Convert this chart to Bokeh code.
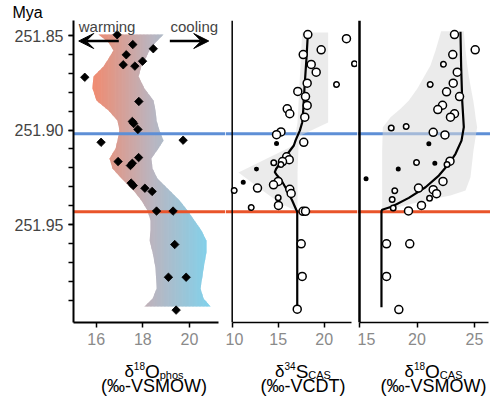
import numpy as np
from bokeh.plotting import figure
from bokeh.layouts import row, column
from bokeh.models import (Range1d, FixedTicker, NumeralTickFormatter, Span,
                          Label, Arrow, VeeHead, Title)
from bokeh.embed import file_html
from bokeh.resources import INLINE

# ---------------- data ----------------
# Panel 1: d18O phosphate (diamonds) and its envelope
phos_age = [251.8496, 251.8548, 251.8570, 251.8602, 251.8636, 251.8655, 251.8662,
            251.8721, 251.8849, 251.8955, 251.8966, 251.8997, 251.9065, 251.9054,
            251.9146, 251.9167, 251.9176, 251.9188, 251.9281, 251.9294, 251.9308,
            251.9325, 251.9429, 251.9429, 251.9606, 251.9779, 251.9779, 251.9953]
phos_val = [16.90, 17.57, 18.45, 17.29, 17.99, 17.16, 17.66,
            15.51, 17.83, 17.55, 17.61, 17.79, 16.21, 19.73,
            17.82, 16.94, 17.55, 17.47, 17.50, 17.59, 18.09,
            18.40, 18.59, 19.30, 19.37, 19.10, 19.86, 19.43]
phos_band_age = [251.8495, 251.8537, 251.8579, 251.8622, 251.8664, 251.8717, 251.8780,
                 251.8844, 251.8897, 251.8950, 251.9003, 251.9056, 251.9098, 251.9151,
                 251.9204, 251.9257, 251.9320, 251.9373, 251.9426, 251.9479, 251.9532,
                 251.9585, 251.9648, 251.9733, 251.9839, 251.9892, 251.9934]
phos_band_lo = [16.10, 16.53, 16.74, 16.53, 16.31, 15.88, 15.84, 16.01, 16.53, 16.91,
                17.00, 16.91, 16.83, 16.57, 16.70, 17.09, 17.60, 17.94, 18.20, 18.33,
                18.33, 18.29, 18.42, 18.55, 18.59, 18.42, 18.07]
phos_band_hi = [18.89, 18.55, 18.29, 18.12, 17.94, 17.82, 18.07, 18.46, 18.55, 18.59,
                18.72, 18.89, 18.67, 18.37, 18.42, 18.63, 19.15, 19.58, 19.92, 20.22,
                20.52, 20.73, 20.73, 20.61, 20.48, 20.61, 20.91]

# Panel 2: d34S CAS  (kind: L = large open, S = small open, D = dot)
s_age = [251.8495, 251.8517, 251.8576, 251.8601, 251.8653, 251.8650, 251.8694, 251.8752,
         251.8759, 251.8796, 251.8823, 251.8870, 251.8888, 251.8914, 251.8932, 251.9010,
         251.9025, 251.9071, 251.9065, 251.9142, 251.9157, 251.9167, 251.9183, 251.9173,
         251.9207, 251.9276, 251.9272, 251.9290, 251.9307, 251.9320, 251.9314, 251.9336,
         251.9359, 251.9399, 251.9410, 251.9430, 251.9430, 251.9602, 251.9775, 251.9948]
s_val = [18.22, 22.42, 19.67, 17.72, 18.59, 23.29, 19.13, 18.15,
         21.34, 17.13, 17.97, 18.15, 15.98, 16.26, 17.89, 15.30,
         14.82, 14.82, 17.78, 15.92, 16.20, 15.47, 15.30, 14.52,
         12.64, 11.20, 15.00, 14.49, 12.75, 10.22, 16.26, 16.41,
         15.00, 15.03, 12.07, 17.70, 17.97, 17.50, 17.61, 17.07]
s_kind = ["L", "L", "L", "L", "L", "S", "L", "L",
          "S", "L", "L", "L", "L", "L", "L", "L",
          "L", "D", "L", "L", "L", "L", "S", "S",
          "D", "D", "L", "L", "L", "S", "L", "L",
          "S", "L", "S", "L", "L", "L", "L", "L"]
s_trend_age = [251.8495, 251.8616, 251.8775, 251.8897, 251.8960, 251.9003, 251.9056,
               251.9082, 251.9152, 251.9205, 251.9223, 251.9241, 251.9267, 251.9320,
               251.9373, 251.9422, 251.9433, 251.9939]
s_trend_val = [18.22, 18.08, 17.86, 17.72, 17.61, 17.35, 16.88,
               16.70, 15.61, 14.78, 14.63, 14.89, 15.36, 15.98,
               16.52, 16.96, 17.07, 17.07]
s_band_age = [251.8484, 251.8960, 251.9029, 251.9082, 251.9225, 251.9320, 251.9389, 251.9431]
s_band_lo = [17.61, 17.10, 16.88, 16.66, 10.68, 13.29, 15.25, 17.07]
s_band_hi = [20.43, 20.43, 17.42, 17.21, 17.10, 17.10, 17.10, 17.07]

# Panel 3: d18O CAS
o_age = [251.8495, 251.8576, 251.8601, 251.8652, 251.8694, 251.8759, 251.8752, 251.8798,
         251.8823, 251.8869, 251.8892, 251.8914, 251.8932, 251.8989, 251.8981, 251.9012,
         251.9026, 251.9073, 251.9172, 251.9176, 251.9207, 251.9165, 251.9183, 251.9272,
         251.9258, 251.9321, 251.9307, 251.9316, 251.9337, 251.9368, 251.9361, 251.9399,
         251.9413, 251.9428, 251.9602, 251.9602, 251.9775, 251.9950]
o_val = [23.26, 25.06, 23.11, 22.30, 23.50, 21.15, 23.15, 22.57,
         23.70, 22.22, 21.81, 23.26, 22.91, 17.76, 19.06, 21.41,
         22.43, 21.03, 19.96, 21.55, 18.37, 22.87, 22.61, 22.26,
         15.57, 18.07, 20.13, 21.41, 21.70, 17.84, 21.09, 20.39,
         17.93, 19.26, 17.35, 19.37, 17.35, 18.42]
o_kind = ["L", "L", "L", "S", "L", "S", "L", "L",
          "L", "L", "L", "L", "L", "S", "S", "L",
          "L", "D", "S", "D", "D", "L", "S", "L",
          "D", "S", "L", "L", "L", "S", "S", "L",
          "S", "L", "L", "L", "L", "L"]
o_trend_age = [251.8480, 251.8668, 251.8844, 251.8985, 251.9056, 251.9126, 251.9179,
               251.9241, 251.9303, 251.9359, 251.9405, 251.9422, 251.9430, 251.9938]
o_trend_val = [23.78, 23.84, 23.93, 24.07, 23.87, 23.35, 22.77,
               21.90, 20.74, 19.29, 17.84, 16.97, 16.91, 16.91]
o_band_age = [251.8477, 251.8579, 251.8659, 251.8721, 251.8782, 251.8844, 251.8888, 251.8932,
              251.8985, 251.9108, 251.9250, 251.9320, 251.9347, 251.9373, 251.9405, 251.9426]
o_band_lo = [22.10, 21.61, 21.17, 20.59, 20.02, 19.29, 18.57, 17.70,
             17.03, 16.97, 16.97, 16.97, 16.97, 16.97, 16.97, 16.97]
o_band_hi = [24.07, 24.22, 24.37, 24.52, 24.70, 24.89, 25.00, 25.09,
             25.23, 24.91, 24.65, 24.22, 22.91, 20.74, 18.57, 17.00]

event_blue = 251.902
event_red = 251.9433

y_major = [251.85, 251.90, 251.95]
y_minor = [251.85, 251.86, 251.87, 251.88, 251.89, 251.90, 251.91, 251.92,
           251.93, 251.94, 251.95, 251.96, 251.97, 251.98, 251.99]
ticks1 = [16, 18, 20]
ticks2 = [10, 15, 20]
ticks3 = [15, 20, 25]

# ---------------- styles ----------------
FONT = "Liberation Sans"
BLUE = "#5e8fd6"
RED = "#e9542a"
TICK_GRAY = "#8a8a8a"
grad_stop_x = [15.8, 18.4, 20.9]
grad_stop_rgb = [(242, 138, 110), (186, 181, 192), (128, 210, 236)]
kind_size = {"L": 8, "S": 5.5, "D": 3.5}
kind_fill = {"L": "white", "S": "white", "D": "black"}

PX_PER_MYA = 1890.0
DESC = 0.212  # font descent as a fraction of size (for bottom-anchored text)


def mya_at(page_y):
    return 251.85 + (page_y - 35) / PX_PER_MYA


TOP = 20
FH = 302
BOTTOM_BORDER = 37
yr = Range1d(start=mya_at(TOP + FH), end=mya_at(TOP))


def make_fig(xr, fw, left_border, yaxis):
    kw = dict(x_range=xr, y_range=yr, frame_width=fw, frame_height=FH,
              min_border_left=left_border, min_border_right=0,
              min_border_top=TOP, min_border_bottom=BOTTOM_BORDER,
              toolbar_location=None, output_backend="svg")
    if not yaxis:
        kw["y_axis_type"] = None
    p = figure(**kw)
    p.outline_line_color = None
    p.xgrid.visible = False
    p.ygrid.visible = False
    p.background_fill_color = "white"
    p.border_fill_color = "white"
    return p


def style_xaxis(p, ticks, bounds, lw):
    ax = p.xaxis[0]
    ax.ticker = FixedTicker(ticks=ticks)
    ax.bounds = bounds
    ax.axis_line_width = lw
    ax.major_tick_line_width = 1.5
    ax.major_tick_out = 5
    ax.major_tick_in = 0
    ax.minor_tick_line_color = None
    ax.major_label_text_color = TICK_GRAY
    ax.major_label_text_font_size = "16px"
    ax.major_label_text_font = FONT
    ax.major_label_standoff = 5


def add_events(p):
    for loc, col in [(event_blue, BLUE), (event_red, RED)]:
        p.add_layout(Span(location=loc, dimension="width", line_color=col,
                          line_width=3, level="underlay"))


# ---------------- panel 1 ----------------
p1 = make_fig(Range1d(15.026, 21.549), 152, 73, True)
p1.title = Title(text="Mya", align="left", offset=-61, standoff=0,
                 text_font=FONT, text_font_size="16px", text_font_style="normal",
                 text_color="black")
style_xaxis(p1, ticks1, (15.026, 21.25), 2)
yax = p1.yaxis[0]
yax.ticker = FixedTicker(ticks=y_major, minor_ticks=y_minor)
yax.formatter = NumeralTickFormatter(format="0.00")
yax.axis_line_width = 2
yax.major_tick_out = 5
yax.major_tick_in = 0
yax.minor_tick_out = 5
yax.minor_tick_in = 0
yax.major_tick_line_width = 1.5
yax.minor_tick_line_width = 1.5
yax.major_label_text_font_size = "16px"
yax.major_label_text_font = FONT
yax.major_label_standoff = 5

# gradient envelope drawn as narrow vertical colour slices
yy = np.linspace(phos_band_age[0], phos_band_age[-1], 500)
lo = np.interp(yy, phos_band_age, phos_band_lo)
hi = np.interp(yy, phos_band_age, phos_band_hi)
step = 0.06
edges = np.arange(min(phos_band_lo) - 0.05, max(phos_band_hi) + 0.05, step)
for a in edges:
    b = a + step
    m = a + step / 2
    rgb = [int(round(np.interp(m, grad_stop_x, [c[k] for c in grad_stop_rgb]))) for k in range(3)]
    col = "#%02x%02x%02x" % tuple(rgb)
    x1 = np.clip(lo, a, b + 0.03)
    x2 = np.clip(hi, a, b + 0.03)
    r = p1.harea(x1=x1, x2=x2, y=yy, fill_color=col, fill_alpha=1.0)
    r.level = "image"

add_events(p1)
p1.scatter(x=phos_val, y=phos_age, marker="square", angle=np.pi / 4, size=6,
           fill_color="black", line_color="black", line_width=0.8)

WARM_SIZE = 15
WARM_BASE = 31
p1.add_layout(Label(x=15.25, y=mya_at(WARM_BASE + DESC * WARM_SIZE), text="warming", text_font=FONT,
                    text_font_size=f"{WARM_SIZE}px", text_align="left", text_baseline="bottom"))
p1.add_layout(Label(x=19.19, y=mya_at(WARM_BASE + DESC * WARM_SIZE), text="cooling", text_font=FONT,
                    text_font_size=f"{WARM_SIZE}px", text_align="left", text_baseline="bottom"))
p1.add_layout(Arrow(x_start=16.97, y_start=mya_at(40.5), x_end=15.25, y_end=mya_at(40.5),
                    line_width=2.5, line_color="black",
                    end=VeeHead(size=15, fill_color="black", line_color="black")))
p1.add_layout(Arrow(x_start=19.16, y_start=mya_at(40.5), x_end=20.83, y_end=mya_at(40.5),
                    line_width=2.5, line_color="black",
                    end=VeeHead(size=15, fill_color="black", line_color="black")))

# ---------------- panel 2 ----------------
p2 = make_fig(Range1d(9.272, 23.620), 132, 0, False)
style_xaxis(p2, ticks2, (10, 23.0), 1.5)
add_events(p2)
p2.add_layout(Span(location=10, dimension="height", line_color="black",
                   line_width=1.5, level="underlay"))
p2.harea(x1=s_band_lo, x2=s_band_hi, y=s_band_age, fill_color="#dadada", fill_alpha=0.55)
p2.line(x=s_trend_val, y=s_trend_age, line_color="black", line_width=2.2)
p2.scatter(x=s_val, y=s_age, size=[kind_size[k] for k in s_kind],
           fill_color=[kind_fill[k] for k in s_kind], line_color="black", line_width=1.5)

# ---------------- panel 3 ----------------
p3 = make_fig(Range1d(14.826, 26.391), 133, 0, False)
style_xaxis(p3, ticks3, (15, 26.22), 1.5)
add_events(p3)
p3.add_layout(Span(location=15, dimension="height", line_color="black",
                   line_width=2.5, level="underlay"))
p3.harea(x1=o_band_lo, x2=o_band_hi, y=o_band_age, fill_color="#dadada", fill_alpha=0.55)
p3.line(x=o_trend_val, y=o_trend_age, line_color="black", line_width=2.2)
p3.scatter(x=o_val, y=o_age, size=[kind_size[k] for k in o_kind],
           fill_color=[kind_fill[k] for k in o_kind], line_color="black", line_width=1.5)

# ---------------- axis titles strip (pixel coordinates) ----------------
ROW_H = TOP + FH + BOTTOM_BORDER
STRIP_H = 397 - ROW_H
strip = figure(width=490, height=STRIP_H, x_range=Range1d(0, 490),
               y_range=Range1d(STRIP_H, 0), x_axis_type=None, y_axis_type=None,
               min_border=0, toolbar_location=None, output_backend="svg")
strip.outline_line_color = None
strip.xgrid.visible = False
strip.ygrid.visible = False

WID = {"δ": 0.556, "O": 0.778, "S": 0.667, "C": 0.722, "A": 0.667,
       "p": 0.556, "h": 0.556, "o": 0.556, "s": 0.5}


def tw(text, size):
    return sum(WID.get(c, 0.556) for c in text) * size


def add_title(xc, pieces, line2, base):
    total = sum(tw(t, s) for t, s, _ in pieces)
    x = xc - total / 2
    for t, s, rise in pieces:
        strip.add_layout(Label(x=x, y=base - rise + DESC * s - ROW_H, text=t,
                               text_font=FONT, text_font_size=f"{s}px",
                               text_align="left", text_baseline="bottom",
                               text_color="black"))
        x += tw(t, s)
    strip.add_layout(Label(x=xc, y=base + 15 + DESC * 18 - ROW_H, text=line2, text_font=FONT,
                           text_font_size="18px", text_align="center",
                           text_baseline="bottom", text_color="black"))


BASE = 377
add_title(153.5, [("δ", 17, 0), ("18", 10, 10), ("O", 19, 0), ("phos", 11, -1)],
          "(‰-VSMOW)", BASE)
add_title(302.5, [("δ", 17, 0), ("34", 10, 10), ("S", 19, 0), ("CAS", 11, -1)],
          "(‰-VCDT)", BASE)
add_title(433.0, [("δ", 17, 0), ("18", 10, 10), ("O", 19, 0), ("CAS", 11, -1)],
          "(‰-VSMOW)", BASE)

layout = column(row(p1, p2, p3), strip)
open("out.html", "w").write(file_html(layout, INLINE))
